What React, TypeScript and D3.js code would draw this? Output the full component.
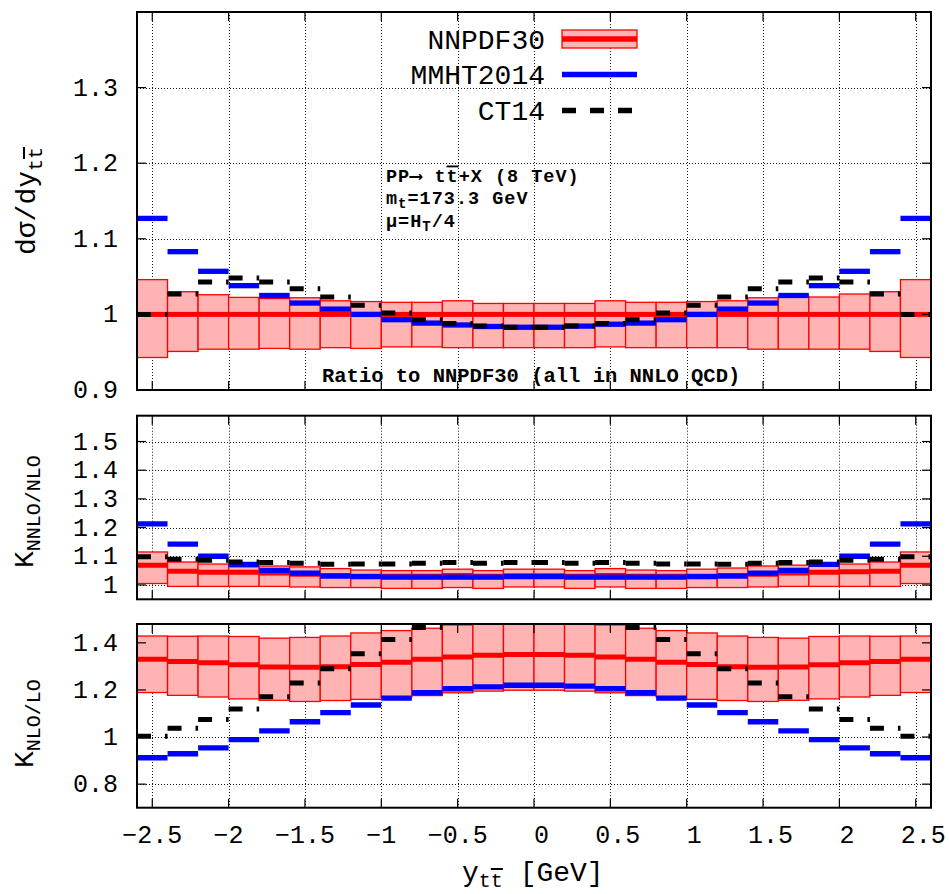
import React from 'react';
import * as d3 from 'd3';

// ---------- data ----------
const binEdges = [-2.6, -2.4, -2.2, -2.0, -1.8, -1.6, -1.4, -1.2, -1.0, -0.8, -0.6, -0.4, -0.2, 0, 0.2, 0.4, 0.6, 0.8, 1.0, 1.2, 1.4, 1.6, 1.8, 2.0, 2.2, 2.4, 2.6];

// top panel: ratio to NNPDF30
const nnTopCentral = [1, 1, 1, 1, 1, 1, 1, 1, 1, 1, 1, 1, 1, 1, 1, 1, 1, 1, 1, 1, 1, 1, 1, 1, 1, 1];
const nnTopHigh = [1.046, 1.030, 1.026, 1.0225, 1.021, 1.022, 1.018, 1.017, 1.016, 1.016, 1.018, 1.0145, 1.0145, 1.0145, 1.0145, 1.018, 1.016, 1.016, 1.017, 1.018, 1.022, 1.024, 1.023, 1.027, 1.030, 1.046];
const nnTopLow = [0.943, 0.951, 0.954, 0.954, 0.955, 0.954, 0.956, 0.955, 0.957, 0.957, 0.956, 0.956, 0.956, 0.956, 0.956, 0.957, 0.956, 0.956, 0.956, 0.956, 0.954, 0.954, 0.954, 0.954, 0.951, 0.943];
const mmTop = [1.127, 1.083, 1.057, 1.038, 1.025, 1.015, 1.007, 1.000, 0.993, 0.9885, 0.986, 0.984, 0.983, 0.983, 0.9845, 0.987, 0.9885, 0.993, 1.000, 1.007, 1.015, 1.025, 1.038, 1.057, 1.083, 1.127];
const ctTop = [1.000, 1.027, 1.043, 1.048, 1.043, 1.034, 1.023, 1.012, 1.002, 0.993, 0.988, 0.9845, 0.983, 0.983, 0.9845, 0.988, 0.993, 1.002, 1.012, 1.023, 1.034, 1.043, 1.048, 1.043, 1.027, 1.000];

// middle panel: K NNLO/NLO
const nnMidCentral = [1.069, 1.048, 1.044, 1.044, 1.042, 1.037, 1.033, 1.030, 1.030, 1.030, 1.033, 1.030, 1.032, 1.032, 1.030, 1.033, 1.030, 1.030, 1.030, 1.033, 1.037, 1.042, 1.044, 1.046, 1.048, 1.069];
const nnMidHigh = [1.115, 1.080, 1.073, 1.063, 1.066, 1.063, 1.057, 1.052, 1.050, 1.050, 1.055, 1.050, 1.055, 1.055, 1.050, 1.057, 1.052, 1.050, 1.055, 1.059, 1.066, 1.069, 1.066, 1.073, 1.080, 1.115];
const nnMidLow = [1.005, 0.995, 0.995, 0.995, 0.995, 0.993, 0.991, 0.991, 0.988, 0.988, 0.991, 0.988, 0.993, 0.993, 0.988, 0.993, 0.988, 0.988, 0.991, 0.991, 0.993, 0.995, 0.995, 0.995, 0.995, 1.005];
const mmMid = [1.213, 1.142, 1.100, 1.072, 1.051, 1.041, 1.031, 1.029, 1.027, 1.027, 1.027, 1.027, 1.029, 1.029, 1.027, 1.027, 1.027, 1.027, 1.029, 1.031, 1.041, 1.051, 1.072, 1.100, 1.142, 1.213];
const ctMid = [1.098, 1.090, 1.086, 1.080, 1.078, 1.076, 1.072, 1.073, 1.073, 1.076, 1.078, 1.076, 1.078, 1.078, 1.076, 1.078, 1.076, 1.073, 1.073, 1.072, 1.076, 1.078, 1.080, 1.086, 1.090, 1.098];

// bottom panel: K NLO/LO
const nnBotCentral = [1.330, 1.321, 1.315, 1.307, 1.297, 1.296, 1.298, 1.308, 1.318, 1.330, 1.340, 1.347, 1.351, 1.351, 1.347, 1.340, 1.330, 1.318, 1.308, 1.298, 1.296, 1.297, 1.307, 1.315, 1.321, 1.330];
const nnBotHigh = [1.429, 1.428, 1.429, 1.427, 1.420, 1.423, 1.429, 1.442, 1.452, 1.462, 1.476, 1.482, 1.482, 1.482, 1.482, 1.476, 1.462, 1.452, 1.442, 1.429, 1.423, 1.420, 1.427, 1.429, 1.428, 1.429];
const nnBotLow = [1.189, 1.177, 1.170, 1.162, 1.156, 1.151, 1.155, 1.160, 1.169, 1.176, 1.188, 1.195, 1.199, 1.199, 1.195, 1.188, 1.176, 1.169, 1.160, 1.155, 1.151, 1.156, 1.162, 1.170, 1.177, 1.189];
const mmBot = [0.912, 0.929, 0.954, 0.989, 1.026, 1.065, 1.104, 1.136, 1.165, 1.188, 1.205, 1.213, 1.220, 1.220, 1.216, 1.205, 1.188, 1.165, 1.136, 1.104, 1.065, 1.026, 0.989, 0.954, 0.929, 0.912];
const ctBot = [1.003, 1.037, 1.075, 1.119, 1.171, 1.230, 1.290, 1.354, 1.414, 1.465, 1.510, 1.540, 1.550, 1.550, 1.540, 1.510, 1.465, 1.414, 1.354, 1.290, 1.230, 1.171, 1.119, 1.075, 1.037, 1.003];

// ticks
const xTicks = [-2.5, -2, -1.5, -1, -0.5, 0, 0.5, 1, 1.5, 2, 2.5];
const xTickLabels = ['\u22122.5', '\u22122', '\u22121.5', '\u22121', '\u22120.5', ' 0', ' 0.5', ' 1', ' 1.5', ' 2', ' 2.5'];
const topYTicks = [0.9, 1.0, 1.1, 1.2, 1.3];
const topYLabels = ['0.9', '1', '1.1', '1.2', '1.3'];
const midYTicks = [1.0, 1.1, 1.2, 1.3, 1.4, 1.5];
const midYLabels = ['1', '1.1', '1.2', '1.3', '1.4', '1.5'];
const botYTicks = [0.8, 1.0, 1.2, 1.4];
const botYLabels = ['0.8', '1', '1.2', '1.4'];

const legendNames = ['NNPDF30', 'MMHT2014', 'CT14'];

// ---------- style ----------
const FONT = "'Liberation Mono', 'DejaVu Sans Mono', monospace";
const RED = '#ff0000';
const PINK = '#ffb3b3';
const BLUE = '#0000ff';
const BLACK = '#000000';
const DASH = '14 14';

const W = 949;
const H = 894;
const X0 = 137;
const X1 = 931;

const x = d3.scaleLinear().domain([-2.6, 2.6]).range([X0, X1]);

interface PanelDef {
  id: string;
  top: number;
  bottom: number;
  domain: [number, number];
  yTicks: number[];
  yLabels: string[];
  nnC: number[];
  nnH: number[];
  nnL: number[];
  mm: number[];
  ct: number[];
}

const panels: PanelDef[] = [
  { id: 'top', top: 12, bottom: 390, domain: [0.9, 1.4], yTicks: topYTicks, yLabels: topYLabels, nnC: nnTopCentral, nnH: nnTopHigh, nnL: nnTopLow, mm: mmTop, ct: ctTop },
  { id: 'mid', top: 415.7, bottom: 599.3, domain: [0.95, 1.59], yTicks: midYTicks, yLabels: midYLabels, nnC: nnMidCentral, nnH: nnMidHigh, nnL: nnMidLow, mm: mmMid, ct: ctMid },
  { id: 'bot', top: 624, bottom: 807.7, domain: [0.7, 1.48], yTicks: botYTicks, yLabels: botYLabels, nnC: nnBotCentral, nnH: nnBotHigh, nnL: nnBotLow, mm: mmBot, ct: ctBot },
];

function Panel({ p }: { p: PanelDef }) {
  const y = d3.scaleLinear().domain(p.domain).range([p.bottom, p.top]);
  const bins = binEdges.slice(0, -1).map((lo, i) => ({ lo, hi: binEdges[i + 1], i }));
  const clipId = `clip-${p.id}`;
  const tickLen = 9;
  return (
    <g>
      <defs>
        <clipPath id={clipId}>
          <rect x={X0} y={p.top} width={X1 - X0} height={p.bottom - p.top} />
        </clipPath>
      </defs>
      {/* grid */}
      <g stroke="#000" strokeWidth={1} strokeDasharray="1 2" opacity={0.9}>
        {xTicks.map((t) => (
          <line key={'gx' + t} x1={Math.round(x(t)) + 0.5} x2={Math.round(x(t)) + 0.5} y1={p.top} y2={p.bottom} />
        ))}
        {p.yTicks.map((t) => (
          <line key={'gy' + t} x1={X0} x2={X1} y1={Math.round(y(t)) + 0.5} y2={Math.round(y(t)) + 0.5} />
        ))}
      </g>
      <g clipPath={`url(#${clipId})`}>
        {/* NNPDF band */}
        {bins.map((b) => (
          <rect
            key={'band' + b.i}
            x={x(b.lo)}
            width={x(b.hi) - x(b.lo)}
            y={y(p.nnH[b.i])}
            height={y(p.nnL[b.i]) - y(p.nnH[b.i])}
            fill={PINK}
            stroke={RED}
            strokeWidth={1.3}
          />
        ))}
        {/* NNPDF central */}
        {bins.map((b) => (
          <line key={'nc' + b.i} x1={x(b.lo)} x2={x(b.hi)} y1={y(p.nnC[b.i])} y2={y(p.nnC[b.i])} stroke={RED} strokeWidth={5} />
        ))}
        {/* MMHT */}
        {bins.map((b) => (
          <line key={'mm' + b.i} x1={x(b.lo)} x2={x(b.hi)} y1={y(p.mm[b.i])} y2={y(p.mm[b.i])} stroke={BLUE} strokeWidth={5.3} />
        ))}
        {/* CT14 */}
        {bins.map((b) => (
          <line key={'ct' + b.i} x1={x(b.lo)} x2={x(b.hi)} y1={y(p.ct[b.i])} y2={y(p.ct[b.i])} stroke={BLACK} strokeWidth={5} strokeDasharray={DASH} />
        ))}
      </g>
      {/* border and ticks */}
      <rect x={X0} y={p.top} width={X1 - X0} height={p.bottom - p.top} fill="none" stroke="#000" strokeWidth={2} />
      <g stroke="#000" strokeWidth={1.2}>
        {xTicks.map((t) => (
          <g key={'tx' + t}>
            <line x1={x(t)} x2={x(t)} y1={p.bottom} y2={p.bottom - tickLen} />
            <line x1={x(t)} x2={x(t)} y1={p.top} y2={p.top + tickLen} />
          </g>
        ))}
        {p.yTicks.map((t) => (
          <g key={'ty' + t}>
            <line x1={X0} x2={X0 + tickLen} y1={y(t)} y2={y(t)} />
            <line x1={X1} x2={X1 - tickLen} y1={y(t)} y2={y(t)} />
          </g>
        ))}
      </g>
      {p.yTicks.map((t, i) => (
        <text key={'yl' + t} x={118} y={y(t) + 8} textAnchor="end" fontFamily={FONT} fontSize={25} fill="#000">
          {p.yLabels[i]}
        </text>
      ))}
    </g>
  );
}

export default function App() {
  const legX0 = 562;
  const legX1 = 637;
  const legTextX = 545;
  const legY = [39, 74.5, 110.5];
  return (
    <svg width={W} height={H} style={{ position: 'absolute', left: 0, top: 0, background: '#fff' }}>
      <rect x={0} y={0} width={W} height={H} fill="#fff" />
      {panels.map((p) => (
        <Panel key={p.id} p={p} />
      ))}

      {/* legend */}
      {legendNames.map((n, i) => (
        <text key={n} x={legTextX} y={legY[i] + 9.5} textAnchor="end" fontFamily={FONT} fontSize={28} fill="#000">
          {n}
        </text>
      ))}
      <rect x={legX0} y={30} width={legX1 - legX0} height={18} fill={PINK} stroke={RED} strokeWidth={1.3} />
      <line x1={legX0} x2={legX1} y1={legY[0]} y2={legY[0]} stroke={RED} strokeWidth={5.5} />
      <line x1={legX0} x2={legX1} y1={legY[1]} y2={legY[1]} stroke={BLUE} strokeWidth={5.5} />
      <line x1={legX0} x2={legX1} y1={legY[2]} y2={legY[2]} stroke={BLACK} strokeWidth={5.5} strokeDasharray={DASH} />

      {/* annotations */}
      <g fontFamily={FONT} fontSize={18.5} fontWeight="bold" fill="#000" letterSpacing={1}>
        <text x={386} y={181.5} style={{ whiteSpace: 'pre' }}>
          <tspan>PP⟶ t</tspan>
          <tspan style={{ textDecoration: 'overline' }}>t</tspan>
          <tspan>+X (8 TeV)</tspan>
        </text>
        <text x={386} y={203.5} style={{ whiteSpace: 'pre' }}>
          <tspan>m</tspan>
          <tspan dy={4} fontSize={14}>t</tspan>
          <tspan dy={-4}>=173.3 GeV</tspan>
        </text>
        <text x={386} y={227} style={{ whiteSpace: 'pre' }}>
          <tspan>μ=H</tspan>
          <tspan dy={4} fontSize={14}>T</tspan>
          <tspan dy={-4}>/4</tspan>
        </text>
      </g>
      <text x={322} y={381.5} fontFamily={FONT} fontSize={20.5} fontWeight="bold" fill="#000" style={{ whiteSpace: 'pre' }}>
        Ratio to NNPDF30 (all in NNLO QCD)
      </text>

      {/* x tick labels */}
      {xTicks.map((t, i) => (
        <text key={'xl' + t} x={x(t)} y={843} textAnchor="middle" fontFamily={FONT} fontSize={25} fill="#000" style={{ whiteSpace: 'pre' }}>
          {xTickLabels[i]}
        </text>
      ))}

      {/* x axis label */}
      <text x={462} y={881} fontFamily={FONT} fontSize={28} fill="#000" style={{ whiteSpace: 'pre' }}>
        <tspan>y</tspan>
        <tspan dy={6} fontSize={20}>t</tspan>
        <tspan fontSize={20} style={{ textDecoration: 'overline' }}>t</tspan>
        <tspan dy={-6}> [GeV]</tspan>
      </text>

      {/* y axis labels */}
      <g transform="translate(35,255) rotate(-90)">
        <text x={0} y={0} fontFamily={FONT} fontSize={28} fill="#000" style={{ whiteSpace: 'pre' }}>
          <tspan>dσ/dy</tspan>
          <tspan dy={7} fontSize={20}>t</tspan>
          <tspan fontSize={20} style={{ textDecoration: 'overline' }}>t</tspan>
        </text>
      </g>
      <g transform="translate(33,568) rotate(-90)">
        <text x={0} y={0} fontFamily={FONT} fontSize={28} fill="#000">
          <tspan>K</tspan>
          <tspan dy={7} fontSize={20}>NNLO/NLO</tspan>
        </text>
      </g>
      <g transform="translate(33,768) rotate(-90)">
        <text x={0} y={0} fontFamily={FONT} fontSize={28} fill="#000">
          <tspan>K</tspan>
          <tspan dy={7} fontSize={20}>NLO/LO</tspan>
        </text>
      </g>
    </svg>
  );
}
